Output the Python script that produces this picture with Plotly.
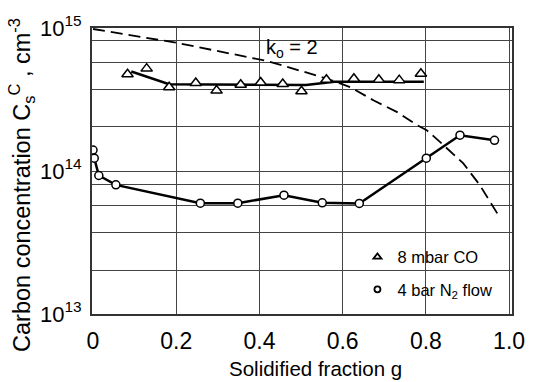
import plotly.graph_objects as go

# ---- data ----
co_g = [0.083, 0.129, 0.183, 0.247, 0.297, 0.355, 0.403, 0.456, 0.501, 0.561, 0.627, 0.687, 0.736, 0.788]
co_c = [4.75e14, 5.2e14, 3.85e14, 4.12e14, 3.65e14, 4.01e14, 4.16e14, 4.06e14, 3.61e14, 4.35e14, 4.42e14, 4.35e14, 4.32e14, 4.79e14]

co_fit_g = [0.092, 0.183, 0.512, 0.580, 0.795]
co_fit_c = [4.96e14, 4.04e14, 4.0e14, 4.21e14, 4.21e14]

n2_g = [0.0, 0.003, 0.014, 0.055, 0.258, 0.348, 0.459, 0.551, 0.640, 0.801, 0.882, 0.965]
n2_c = [1.40e14, 1.23e14, 9.3e13, 8.0e13, 5.96e13, 5.96e13, 6.77e13, 5.99e13, 5.93e13, 1.23e14, 1.78e14, 1.64e14]

scheil_g = [0.0, 0.202, 0.417, 0.540, 0.588, 0.620, 0.675, 0.731, 0.779, 0.802, 0.842, 0.890, 0.929, 0.973]
scheil_c = [9.84e14, 7.87e14, 5.89e14, 4.63e14, 4.16e14, 3.84e14, 3.11e14, 2.58e14, 2.09e14, 1.93e14, 1.52e14, 1.13e14, 8.02e13, 4.98e13]

x_ticks = [0, 0.2, 0.4, 0.6, 0.8, 1.0]
x_ticklabels = ["0", "0.2", "0.4", "0.6", "0.8", "1.0"]
y_ticks = [1e13, 2e13, 3.7e13, 5.7e13, 8.1e13, 1e14, 2.05e14, 3.7e14, 5.7e14, 8.2e14, 1e15]
y_ticklabels = ["10<sup>13</sup>", "", "", "", "", "10<sup>14</sup>", "", "", "", "", "10<sup>15</sup>"]

FONT = "Liberation Sans, Arial, sans-serif"

fig = go.Figure()

fig.add_trace(go.Scatter(x=scheil_g, y=scheil_c, mode="lines",
                         line=dict(color="black", width=1.8, dash="12px,6px"),
                         showlegend=False))
fig.add_trace(go.Scatter(x=co_fit_g, y=co_fit_c, mode="lines",
                         line=dict(color="black", width=2.5), showlegend=False))
fig.add_trace(go.Scatter(x=co_g, y=co_c, mode="markers",
                         marker=dict(symbol="triangle-up", size=10, color="white",
                                     line=dict(color="black", width=1.5)),
                         showlegend=False))
fig.add_trace(go.Scatter(x=n2_g, y=n2_c, mode="lines+markers",
                         line=dict(color="black", width=2.5),
                         marker=dict(symbol="circle", size=8, color="white",
                                     line=dict(color="black", width=1.5)),
                         showlegend=False))
# legend-only entries
fig.add_trace(go.Scatter(x=[None], y=[None], mode="markers", name="8 mbar CO",
                         legendgroup="a",
                         marker=dict(symbol="triangle-up", size=7, color="white",
                                     line=dict(color="black", width=1.8))))
fig.add_trace(go.Scatter(x=[None], y=[None], mode="markers", name="4 bar N<sub>2</sub> flow",
                         legendgroup="b",
                         marker=dict(symbol="circle", size=6, color="white",
                                     line=dict(color="black", width=1.8))))

fig.update_layout(
    width=537, height=382,
    margin=dict(l=92, r=21, t=25, b=68),
    paper_bgcolor="white", plot_bgcolor="white",
    font=dict(family=FONT, color="black"),
    legend=dict(x=0.632, y=0.26, xanchor="left", yanchor="top", tracegroupgap=8,
                bgcolor="rgba(0,0,0,0)", font=dict(size=16.5, family=FONT)),
    xaxis=dict(range=[-0.0024, 1.007], tickvals=x_ticks, ticktext=x_ticklabels,
               showgrid=True, gridcolor="#444", gridwidth=1.2,
               showline=True, linecolor="#333", linewidth=2, mirror=True,
               zeroline=False, ticks="", tickfont=dict(size=23), ticklabelstandoff=5),
    yaxis=dict(type="log", range=[13, 15], tickvals=y_ticks, ticktext=y_ticklabels,
               showgrid=True, gridcolor="#444", gridwidth=1.2,
               showline=True, linecolor="#333", linewidth=2, mirror=True,
               zeroline=False, ticks="", tickfont=dict(size=22), ticklabelstandoff=4),
    shapes=[dict(type="rect", xref="paper", yref="paper", x0=0.672, x1=0.946, y0=0.038, y1=0.256,
                 fillcolor="white", line=dict(width=0), layer="between")],
    annotations=[
        dict(text="Solidified fraction g", xref="paper", yref="paper", x=0.533, y=-0.19,
             xanchor="center", yanchor="middle", showarrow=False, font=dict(size=20.5)),
        dict(text="Carbon concentration C<sub>s</sub><sup>C</sup> , cm<sup>-3</sup>",
             xref="paper", yref="paper", x=-0.1675, y=0.45, textangle=-90,
             xanchor="center", yanchor="middle", showarrow=False, font=dict(size=23.5)),
        dict(text="k<sub>o</sub> = 2", xref="paper", yref="paper", x=0.475, y=0.927,
             xanchor="center", yanchor="middle", showarrow=False, font=dict(size=20)),
    ],
)

fig.write_html("out.html")
